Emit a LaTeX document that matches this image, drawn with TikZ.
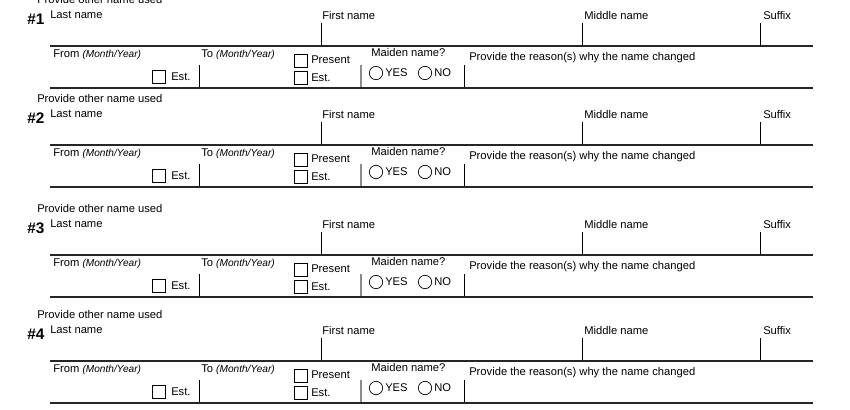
\documentclass[tikz,border=0pt]{standalone}
\usepackage{fontspec}
\setmainfont{Liberation Sans}
\tikzset{%
  % Specifications for style of the form parts:
  lbl/.style = {anchor=west, inner sep=0pt, font=\fontsize{8.4}{10}\selectfont},
  num/.style = {anchor=west, inner sep=0pt, font=\fontsize{11.5}{14}\selectfont\bfseries},
  rule/.style = {line width=1.1pt, black!85},
  tick/.style = {line width=0.6pt},
  gtick/.style = {line width=0.8pt, black!45},
  box/.style = {draw, line width=0.5pt, minimum size=9.5pt, inner sep=0pt},
  radio/.style = {draw, circle, line width=0.5pt, minimum size=10pt, inner sep=0pt}
}
\begin{document}
\begin{tikzpicture}[x=0.75pt, y=-0.75pt]
  \useasboundingbox (0,0) rectangle (850,410);
  \foreach \k/\y in {1/18, 2/117, 3/227, 4/333} {
    \node (prov\k)[lbl] at (37,\y-19) {Provide other name used};
    \node (hash\k)[num] at (27,\y+1) {\#\k};
    \node (last\k)[lbl] at (50,\y-3) {Last name};
    \node (first\k)[lbl] at (322,\y-3) {First name};
    \node (mid\k)[lbl] at (584,\y-3) {Middle name};
    \node (suf\k)[lbl] at (763,\y-3) {Suffix};
    \draw[tick] (321,\y+5) -- (321,\y+27);
    \draw[tick] (582,\y+5) -- (582,\y+27);
    \draw[tick] (760,\y+5) -- (760,\y+27);
    \draw[rule] (50,\y+28) -- (813,\y+28);
    % second row
    \node (from\k)[lbl] at (53,\y+37) {From {\fontsize{7.6}{9}\selectfont\itshape (Month/Year)}};
    \node (ebox\k)[box] at (159,\y+59) {};
    \node (est\k)[lbl] at (171,\y+59) {Est.};
    \draw[tick] (199,\y+47) -- (199,\y+69);
    \node (to\k)[lbl] at (201,\y+37) {To {\fontsize{7.6}{9}\selectfont\itshape (Month/Year)}};
    \node (pbox\k)[box] at (301,\y+43) {};
    \node (pres\k)[lbl] at (311,\y+42) {Present};
    \node (tbox\k)[box] at (301,\y+60) {};
    \node (test\k)[lbl] at (311,\y+60) {Est.};
    \draw[gtick] (361,\y+47) -- (361,\y+69);
    \node (maid\k)[lbl] at (371,\y+34) {Maiden name?};
    \node (yesc\k)[radio] at (376,\y+55) {};
    \node (yes\k)[lbl] at (385,\y+55) {YES};
    \node (noc\k)[radio] at (425,\y+55) {};
    \node (no\k)[lbl] at (434,\y+55) {NO};
    \draw[tick] (464,\y+47) -- (464,\y+69);
    \node (why\k)[lbl] at (469,\y+40) {Provide the reason(s) why the name changed};
    \draw[rule] (50,\y+70) -- (813,\y+70);
  }
\end{tikzpicture}
\end{document}
